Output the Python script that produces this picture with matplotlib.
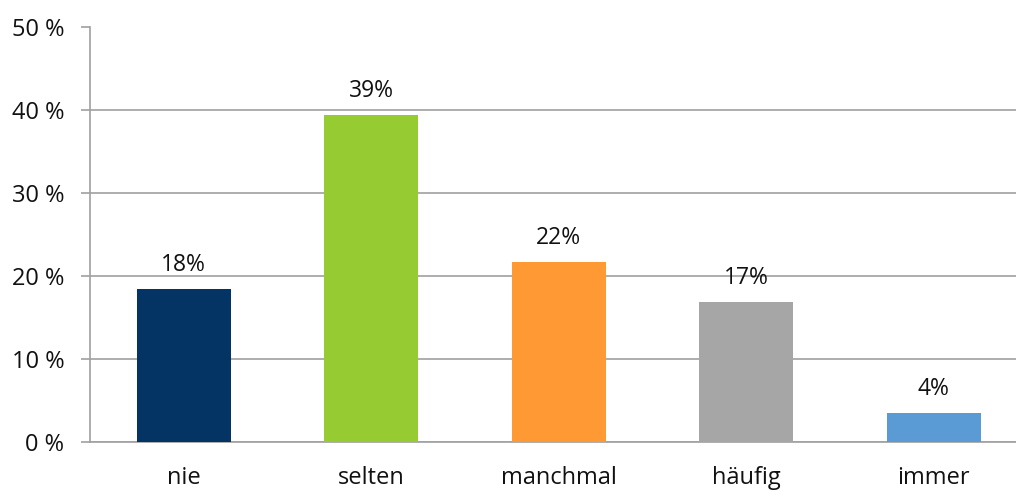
import matplotlib.pyplot as plt

plt.rcParams["font.family"] = ["Open Sans", "DejaVu Sans"]

categories = ["nie", "selten", "manchmal", "häufig", "immer"]
shares = [18.4, 39.4, 21.7, 16.9, 3.5]
bar_colors = ["#033463", "#96CB32", "#FF9933", "#A6A6A6", "#5B9BD5"]
y_ticks = [0, 10, 20, 30, 40, 50]

W, H = 1016, 491
fig = plt.figure(figsize=(W / 100, H / 100), dpi=100)
fig.patch.set_facecolor("white")

# axis box runs past the right edge, like a cropped export
ax = fig.add_axes([90 / W, 49 / H, 937.5 / W, 414.5 / H])

x = range(len(categories))
bars = ax.bar(x, shares, width=0.5, color=bar_colors, zorder=3)

for xi, v in zip(x, shares):
    ax.annotate(f"{v:.0f}%", (xi, v), xytext=(0, 13), textcoords="offset points",
                ha="center", va="baseline", fontsize=16.5, color="#111111")

ax.set_xlim(-0.5, 4.5)
ax.set_ylim(0, 50)
ax.set_yticks(y_ticks)
ax.set_yticklabels([f"{t} %" for t in y_ticks])
ax.set_xticks(list(x))
ax.set_xticklabels(categories)

ax.grid(axis="y", color="#A0A0A0", lw=1.2, zorder=0)
for s in ["top", "right"]:
    ax.spines[s].set_visible(False)
for s in ["left", "bottom"]:
    ax.spines[s].set_color("#A0A0A0")
    ax.spines[s].set_linewidth(1.2)

ax.tick_params(axis="y", length=6.5, width=1.2, color="#A0A0A0", pad=12,
               labelsize=17, labelcolor="#111111")
ax.tick_params(axis="x", length=0, pad=17, labelsize=17, labelcolor="#111111")

fig.savefig("out.png", dpi=100)
